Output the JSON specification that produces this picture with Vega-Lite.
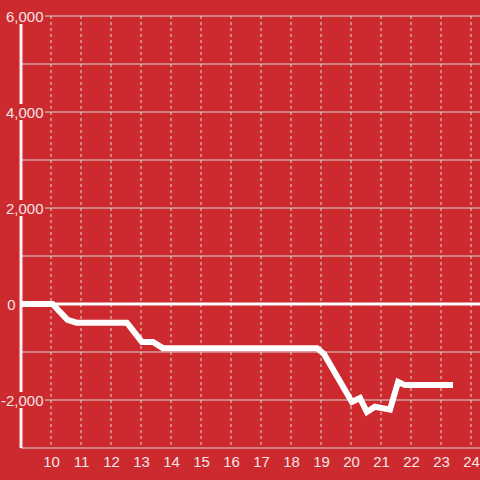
{
  "$schema": "https://vega.github.io/schema/vega-lite/v6.json",
  "width": 459,
  "height": 432,
  "autosize": {"type": "none"},
  "padding": {"left": 21, "top": 16, "right": 0, "bottom": 32},
  "background": "#cc2a2f",
  "config": {
    "view": {"stroke": null},
    "axisX": {"grid": false, "domain": false, "ticks": false, "tickSize": 0, "labelPadding": 6, "labelFont": "Liberation Sans", "labelFontSize": 15, "labelColor": "#f5e4e4", "title": null, "labelFlush": false, "labelOverlap": false},
    "axisY": {"grid": false, "domain": false, "ticks": false, "tickSize": 0, "labelFont": "Liberation Sans", "labelFontSize": 15, "labelColor": "#f5e4e4", "title": null, "labelOverlap": false, "format": ",.0f", "labelExpr": "replace(datum.label, '\u2212', '-')"}
  },
  "datasets": {
    "hours": [{"h": 10}, {"h": 11}, {"h": 12}, {"h": 13}, {"h": 14}, {"h": 15}, {"h": 16}, {"h": 17}, {"h": 18}, {"h": 19}, {"h": 20}, {"h": 21}, {"h": 22}, {"h": 23}, {"h": 24}],
    "levels": [{"v": -3000}, {"v": -2000}, {"v": -1000}, {"v": 1000}, {"v": 2000}, {"v": 3000}, {"v": 4000}, {"v": 5000}, {"v": 6000}],
    "labelled": [{"v": -2000}, {"v": 2000}, {"v": 4000}, {"v": 6000}],
    "series": [
      {"t": 9, "val": 0}, {"t": 10.05, "val": 0}, {"t": 10.55, "val": -330}, {"t": 10.85, "val": -390},
      {"t": 12.53, "val": -390}, {"t": 13.03, "val": -790}, {"t": 13.4, "val": -790}, {"t": 13.73, "val": -920},
      {"t": 18.87, "val": -920}, {"t": 19.1, "val": -1040}, {"t": 20.03, "val": -2040}, {"t": 20.3, "val": -1960},
      {"t": 20.53, "val": -2250}, {"t": 20.8, "val": -2140}, {"t": 21.3, "val": -2200}, {"t": 21.57, "val": -1625},
      {"t": 21.8, "val": -1690}, {"t": 23.4, "val": -1690}
    ]
  },
  "layer": [
    {
      "data": {"name": "hours"},
      "mark": {"type": "rule", "color": "#dddddd", "strokeWidth": 1, "strokeDash": [3, 3]},
      "encoding": {
        "x": {"field": "h", "type": "quantitative", "scale": {"domain": [9, 24.3], "nice": false, "zero": false},
          "axis": {"values": [10, 11, 12, 13, 14, 15, 16, 17, 18, 19, 20, 21, 22, 23, 24]}}
      }
    },
    {
      "data": {"name": "levels"},
      "mark": {"type": "rule", "color": "#d8d8d8", "strokeWidth": 1},
      "encoding": {
        "y": {"field": "v", "type": "quantitative", "scale": {"domain": [-3000, 6000], "nice": false, "zero": false},
          "axis": {"values": [-2000, 0, 2000, 4000, 6000], "format": ",.0f", "zindex": 2,
            "labelPadding": {"condition": {"test": "datum.value == 0", "value": 6}, "value": -22}}}
      }
    },
    {
      "data": {"values": [{}]},
      "mark": {"type": "rule", "color": "#f4f0f0", "strokeWidth": 3},
      "encoding": {"x": {"datum": 9, "type": "quantitative", "axis": {"values": [10, 11, 12, 13, 14, 15, 16, 17, 18, 19, 20, 21, 22, 23, 24]}}}
    },
    {
      "data": {"name": "labelled"},
      "mark": {"type": "rule", "color": "#cc2a2f", "strokeWidth": 16},
      "encoding": {
        "y": {"field": "v", "type": "quantitative",
          "axis": {"values": [-2000, 0, 2000, 4000, 6000], "format": ",.0f", "zindex": 2,
            "labelPadding": {"condition": {"test": "datum.value == 0", "value": 6}, "value": -22}}},
        "x": {"datum": 8.8, "type": "quantitative", "axis": {"values": [10, 11, 12, 13, 14, 15, 16, 17, 18, 19, 20, 21, 22, 23, 24]}},
        "x2": {"datum": 9.8}
      }
    },
    {
      "data": {"values": [{}]},
      "mark": {"type": "rule", "color": "#ffffff", "strokeWidth": 3},
      "encoding": {"y": {"datum": 0, "type": "quantitative",
          "axis": {"values": [-2000, 0, 2000, 4000, 6000], "format": ",.0f", "zindex": 2,
            "labelPadding": {"condition": {"test": "datum.value == 0", "value": 6}, "value": -22}}}}
    },
    {
      "data": {"name": "series"},
      "mark": {"type": "line", "color": "#ffffff", "strokeWidth": 6, "strokeJoin": "miter"},
      "encoding": {
        "x": {"field": "t", "type": "quantitative", "axis": {"values": [10, 11, 12, 13, 14, 15, 16, 17, 18, 19, 20, 21, 22, 23, 24]}},
        "y": {"field": "val", "type": "quantitative",
          "axis": {"values": [-2000, 0, 2000, 4000, 6000], "format": ",.0f", "zindex": 2,
            "labelPadding": {"condition": {"test": "datum.value == 0", "value": 6}, "value": -22}}}
      }
    }
  ]
}
